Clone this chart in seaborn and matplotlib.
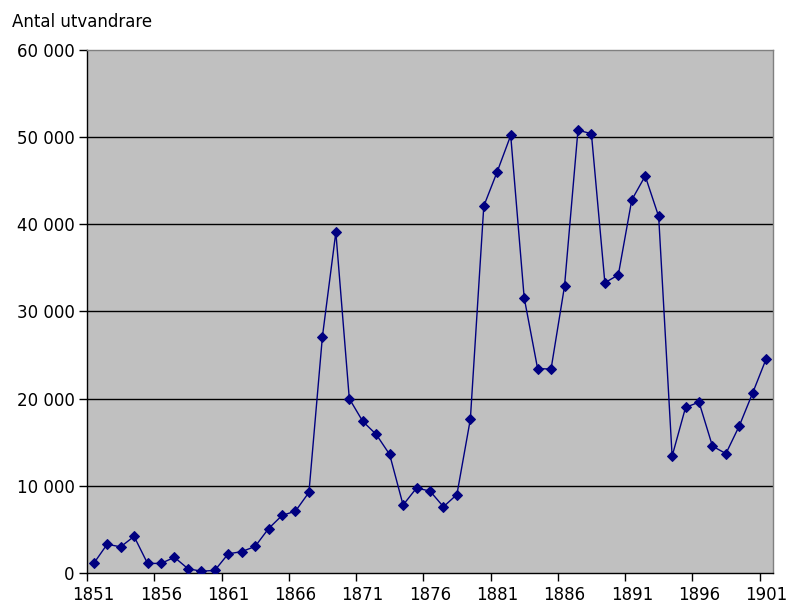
import matplotlib
matplotlib.use("Agg")
import matplotlib.pyplot as plt
import matplotlib.ticker as mticker
import seaborn as sns
import pandas as pd

years = list(range(1851, 1902))
emigrants = [1100, 3300, 3000, 4200, 1100, 1100, 1800, 500, 200, 300,
             2200, 2450, 3050, 5100, 6600, 7100, 9250, 27100, 39100, 20000,
             17400, 15900, 13600, 7800, 9750, 9400, 7600, 9000, 17650, 42100,
             46050, 50200, 31600, 23450, 23400, 32900, 50800, 50400, 33300, 34200,
             42800, 45550, 40900, 13400, 19000, 19600, 14550, 13700, 16900, 20700,
             24600]
y_label = "Antal utvandrare"
y_ticks = [0, 10000, 20000, 30000, 40000, 50000, 60000]
x_label_years = list(range(1851, 1902, 5))

df = pd.DataFrame({"year": years, "value": emigrants})

sns.set_style("white")
plt.rcParams["font.family"] = ["DejaVu Sans"]
plt.rcParams["text.color"] = "black"
plt.rcParams["xtick.color"] = "black"
plt.rcParams["ytick.color"] = "black"
plt.rcParams["xtick.labelcolor"] = "black"
plt.rcParams["ytick.labelcolor"] = "black"

fig = plt.figure(figsize=(7.88, 6.07), dpi=100)
ax = fig.add_axes([87/788, 1-573/607, (773-87)/788, (573-50)/607])
ax.set_facecolor("#C0C0C0")

sns.lineplot(data=df, x="year", y="value", ax=ax, color="#000080",
             marker="D", markersize=5, markeredgecolor="#000080",
             linewidth=1, zorder=3)

ax.set_xlim(years[0]-0.5, years[-1]+0.5)
ax.set_ylim(0, 60000)
ax.set_yticks(y_ticks)
ax.yaxis.set_major_formatter(mticker.FuncFormatter(lambda v, p: f"{int(v):,}".replace(",", " ")))
for t in y_ticks[1:-1]:
    ax.axhline(t, color="black", linewidth=1, zorder=1)

ax.set_xticks([y - 0.5 for y in x_label_years])
ax.set_xticklabels([])
ax.set_xticks(x_label_years, minor=True)
ax.set_xticklabels([str(y) for y in x_label_years], minor=True)
ax.tick_params(axis="x", which="minor", length=0, pad=9, labelsize=12, labelcolor="black")
ax.tick_params(axis="x", which="major", length=6, width=1, direction="out", color="black")
ax.tick_params(axis="y", length=6, width=1, direction="out", color="black", labelsize=12, pad=3, labelcolor="black")
ax.tick_params(bottom=True, left=True, which="major")

ax.set_xlabel("")
ax.set_ylabel("")
for s in ["left", "bottom"]:
    ax.spines[s].set_color("black")
    ax.spines[s].set_linewidth(1)
for s in ["top", "right"]:
    ax.spines[s].set_color("#808080")
    ax.spines[s].set_linewidth(1)

fig.text(12/788, 1-27/607, y_label, fontsize=12, va="baseline", ha="left", color="black")

fig.savefig("out.png", dpi=100, facecolor="white")
